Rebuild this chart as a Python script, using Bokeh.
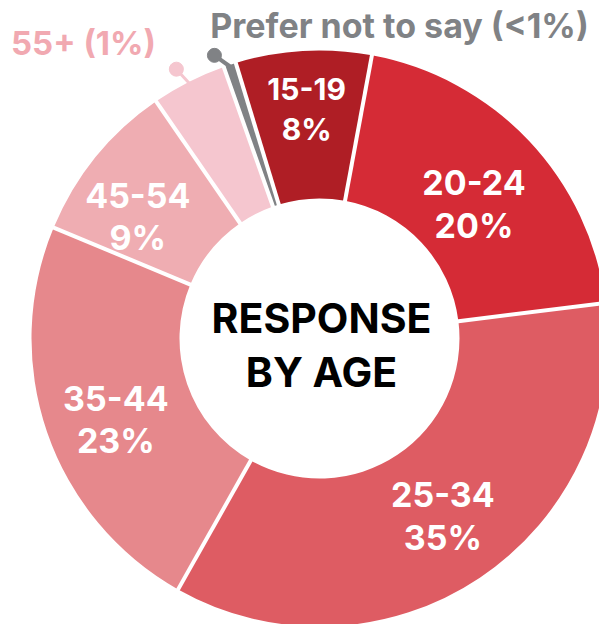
import numpy as np
from bokeh.plotting import figure
from bokeh.models import Range1d, ColumnDataSource
from bokeh.core.properties import value
from bokeh.embed import file_html
from bokeh.resources import INLINE

# ---- data ----
categories = ["15-19", "20-24", "25-34", "35-44", "45-54", "55+", "Prefer not to say"]
pct_labels = ["8%", "20%", "35%", "23%", "9%", "1%", "<1%"]
# drawn share of the ring
shares = [7.6, 20.1, 35.1, 23.1, 9.1, 4.2, 0.7]

# ---- style ----
colors = ["#AF1E25", "#D52B36", "#DE5C63", "#E6888C", "#EFADB2", "#F5C6CF", "#808285"]
label_sizes = ["30px", "34px", "34px", "34px", "34px"]
label_radius = [230, 205, 216, 219, 219]
label_shift_deg = [0.0, 2.2, -1.0, -2.6, -5.1]   # clockwise shift from slice middle
label_half_gap = [20, 21.5, 21.5, 21, 21]
FONT = "Inter"

W, H = 599, 624
cx, cy = 319, H - 338
r_in, r_out = 140, 288
start_deg = 106.9  # ccw from +x, slices run clockwise

deg = np.array(shares) / sum(shares) * 360.0
cum = np.concatenate([[0], np.cumsum(deg)])
ends = np.radians(start_deg - cum[:-1])
starts = np.radians(start_deg - cum[1:])
mids = (starts + ends) / 2

p = figure(width=W, height=H, x_range=Range1d(0, W), y_range=Range1d(0, H),
           output_backend="svg", toolbar_location=None,
           x_axis_type=None, y_axis_type=None, min_border=0,
           outline_line_color=None, background_fill_color="white",
           border_fill_color="white")
p.xgrid.visible = False
p.ygrid.visible = False

src = ColumnDataSource(dict(start=starts, end=ends, color=colors, cat=categories))
p.annular_wedge(x=cx, y=cy, inner_radius=r_in, outer_radius=r_out,
                start_angle="start", end_angle="end", fill_color="color",
                line_color=None, source=src)

# white separators at each boundary
b = np.radians(start_deg - cum[:-1])
p.segment(x0=cx + (r_in - 4) * np.cos(b), y0=cy + (r_in - 4) * np.sin(b),
          x1=cx + (r_out + 4) * np.cos(b), y1=cy + (r_out + 4) * np.sin(b),
          line_color="white", line_width=4)

# lollipop markers for the two small slices
for i, lw, rd, sh in ((5, 3, 305, 1.0), (6, 4, 302, 2.2)):
    a = mids[i] + np.radians(sh)
    a0 = mids[i]
    p.segment(x0=cx + (r_out - 2) * np.cos(a0), y0=cy + (r_out - 2) * np.sin(a0),
              x1=cx + rd * np.cos(a), y1=cy + rd * np.sin(a),
              line_color=colors[i], line_width=lw)
    p.scatter(x=[cx + rd * np.cos(a)], y=[cy + rd * np.sin(a)], size=14,
              marker="circle", fill_color=colors[i], line_color=colors[i])

# slice labels
for i in range(5):
    a = mids[i] - np.radians(label_shift_deg[i])
    lx = cx + label_radius[i] * np.cos(a)
    ly = cy + label_radius[i] * np.sin(a)
    g = label_half_gap[i]
    for txt, dy in ((categories[i], g), (pct_labels[i], -g)):
        p.text(x=[lx], y=[ly + dy], text=[txt], text_color="white",
               text_font=value(FONT), text_font_style="bold",
               text_font_size=label_sizes[i], text_align="center",
               text_baseline="middle")

# centre title
for txt, dy in (("RESPONSE", 21), ("BY AGE", -33)):
    p.text(x=[cx + 2], y=[cy + dy], text=[txt], text_color="black",
           text_font=value(FONT), text_font_style="bold",
           text_font_size="41px", text_align="center", text_baseline="middle")

# outside labels for small slices
p.text(x=[399], y=[H - 25], text=[f"{categories[6]} ({pct_labels[6]})"],
       text_color=colors[6], text_font=value(FONT), text_font_style="bold",
       text_font_size="34px", text_align="center", text_baseline="middle")
p.text(x=[83], y=[H - 42], text=[f"{categories[5]} ({pct_labels[5]})"],
       text_color="#F1A9B1", text_font=value(FONT), text_font_style="bold",
       text_font_size="33px", text_align="center", text_baseline="middle")

open("out.html", "w").write(file_html(p, INLINE))
